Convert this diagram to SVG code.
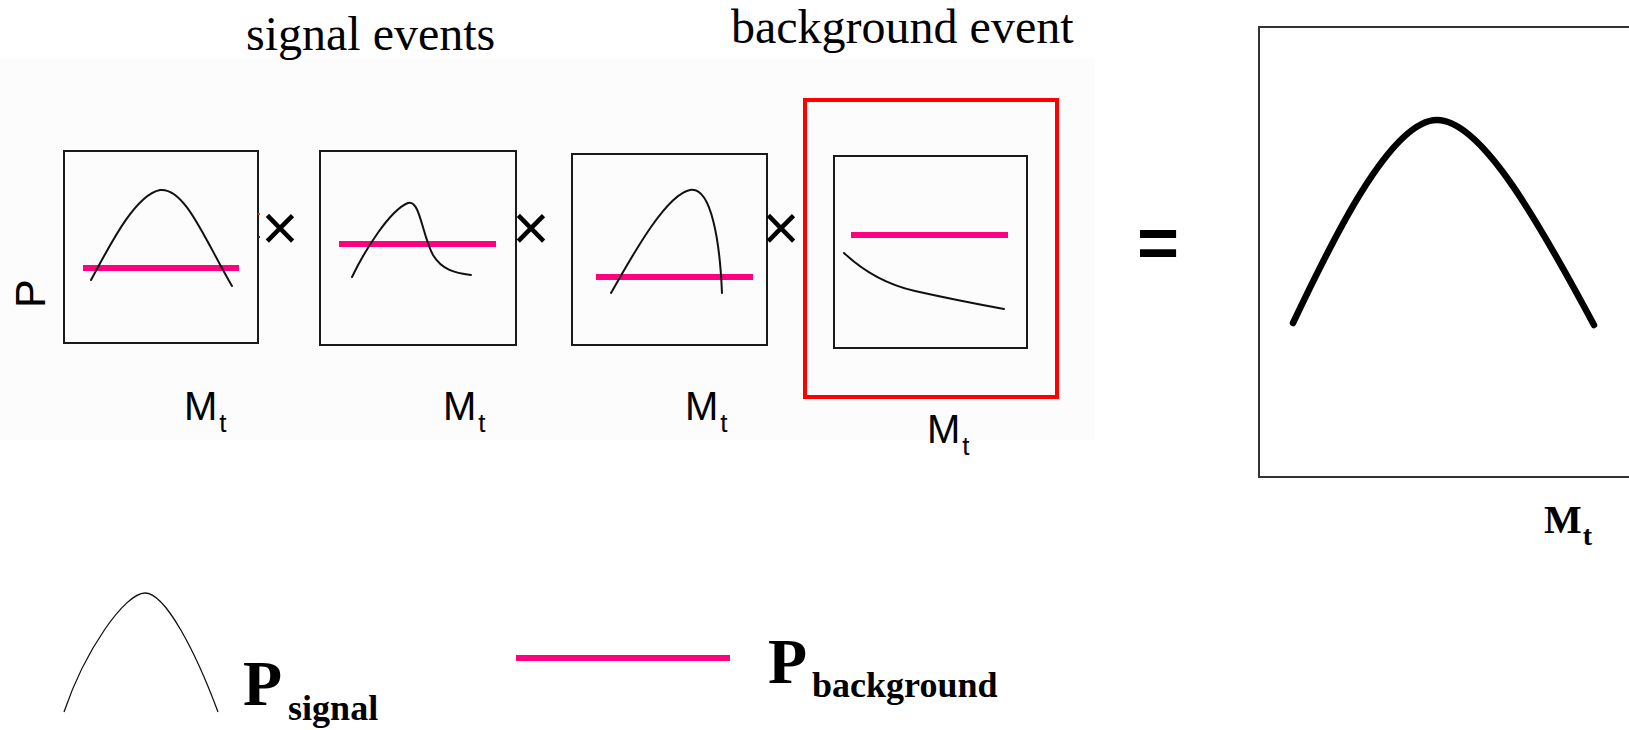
<svg xmlns="http://www.w3.org/2000/svg" width="1629" height="730" viewBox="0 0 1629 730">
<style>
.frame{fill:none;stroke:#1a1a1a;stroke-width:2}
.sig{fill:none;stroke:#111;stroke-width:2;stroke-linecap:round;stroke-linejoin:round}
.bg{fill:none;stroke:#ff0080;stroke-width:6;stroke-linecap:butt}
.sans{font-family:"Liberation Sans",Arial,sans-serif;fill:#000}
.serif{font-family:"Liberation Serif","Times New Roman",serif;fill:#000}
.mt{font-size:40px}
.times{font-size:64px}
</style>
<rect x="0" y="0" width="1629" height="730" fill="#ffffff"/>
<rect x="0" y="58" width="1095" height="382" fill="#fcfcfc"/>

<g id="title-signal"><text class="serif" x="246" y="50" font-size="48">signal events</text></g>
<g id="title-background"><text class="serif" x="731" y="43" font-size="48">background event</text></g>

<g id="axis-p"><text class="sans" transform="translate(45,308) rotate(-90)" font-size="43">P</text></g>

<g id="panel1">
<rect class="frame" x="64" y="151" width="194" height="192"/>
<line class="bg" x1="83" y1="268" x2="239" y2="268"/>
<path class="sig" d="M91,280 C110,245 135,195 160,190 C185,187 205,240 232,286"/>
<text class="sans mt" x="184" y="420">M<tspan font-size="26" dx="2" dy="12">t</tspan></text>
</g>

<g id="panel2">
<rect class="frame" x="320" y="151" width="196" height="194"/>
<line class="bg" x1="339" y1="244" x2="496" y2="244"/>
<path class="sig" d="M352,277 C365,250 390,210 408,203 C420,199 422,235 433,255 C442,270 455,273 471,275"/>
<text class="sans mt" x="443" y="420">M<tspan font-size="26" dx="2" dy="12">t</tspan></text>
</g>

<g id="panel3">
<rect class="frame" x="572" y="154" width="195" height="191"/>
<line class="bg" x1="596" y1="277" x2="753" y2="277"/>
<path class="sig" d="M611,293 C630,260 665,195 690,190 C712,186 720,245 722,293"/>
<text class="sans mt" x="685" y="420">M<tspan font-size="26" dx="2" dy="12">t</tspan></text>
</g>

<g id="panel4">
<rect x="805" y="100" width="252" height="297" fill="none" stroke="#ff0000" stroke-width="4"/>
<rect class="frame" x="834" y="156" width="193" height="192"/>
<line class="bg" x1="851" y1="235" x2="1008" y2="235"/>
<path class="sig" d="M844,253 Q875,282 915,291 T1004,309"/>
<text class="sans mt" x="927" y="443">M<tspan font-size="26" dx="2" dy="12">t</tspan></text>
</g>

<g id="operators">
<text class="sans" x="280" y="250" font-size="64" text-anchor="middle">×</text>
<text class="sans" x="531" y="250" font-size="64" text-anchor="middle">×</text>
<text class="sans" x="781" y="250" font-size="64" text-anchor="middle">×</text>
<text class="sans" x="1158" y="267" font-size="72" font-weight="bold" text-anchor="middle">=</text>
<rect x="258" y="213" width="2" height="2" fill="#ff3030"/>
<rect x="258" y="236" width="2" height="2" fill="#333"/>
</g>

<g id="result">
<rect x="1259" y="27" width="420" height="450" fill="none" stroke="#333" stroke-width="2"/>
<path d="M1293,323 C1330,245 1390,120 1437,120 C1480,120 1535,215 1594,325" fill="none" stroke="#000" stroke-width="6.5" stroke-linecap="round"/>
<text class="serif" x="1544" y="533" font-size="40" font-weight="bold">M<tspan font-size="28" dx="1" dy="12">t</tspan></text>
</g>

<g id="legend-signal">
<path d="M64,712 C85,650 125,593 145,593 C165,593 195,650 218,712" fill="none" stroke="#111" stroke-width="1.3"/>
<text class="serif times" x="243" y="705" font-weight="bold">P<tspan font-size="36" dx="6" dy="15">signal</tspan></text>
</g>

<g id="legend-background">
<line class="bg" x1="516" y1="658" x2="730" y2="658"/>
<text class="serif times" x="768" y="683" font-weight="bold">P<tspan font-size="36" dx="5" dy="14">background</tspan></text>
</g>
</svg>
